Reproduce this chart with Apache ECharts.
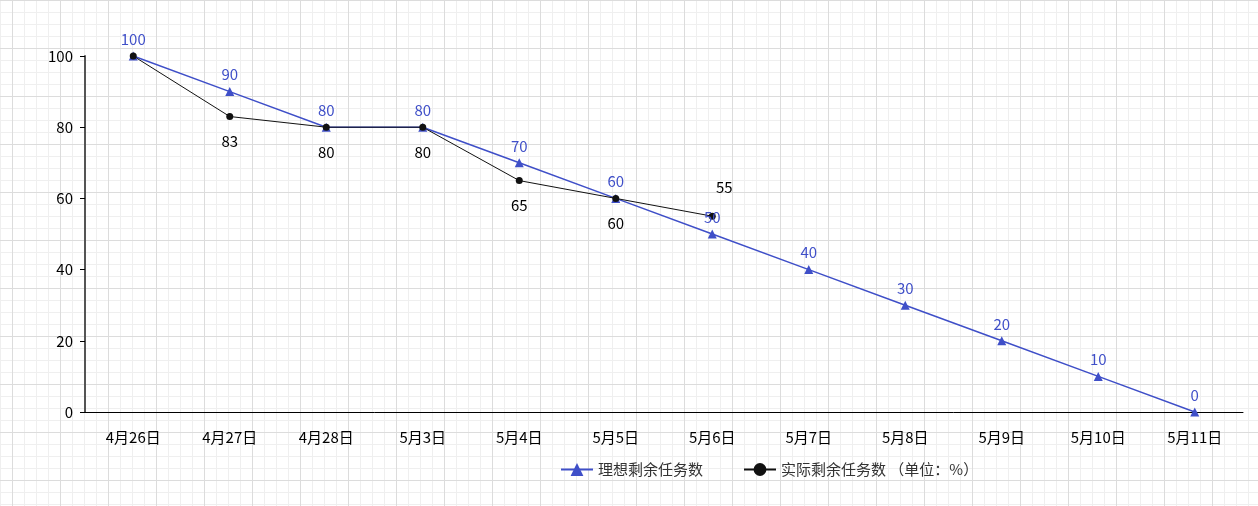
<!DOCTYPE html>
<html>
<head>
<meta charset="utf-8">
<script src="https://cdn.jsdelivr.net/npm/echarts@6/dist/echarts.min.js"></script>
<style>
html, body { margin: 0; padding: 0; }
body {
	background-color: #fff;
	background-image:
		linear-gradient(#dcdcdc 1px, transparent 1px),
		linear-gradient(90deg, #dcdcdc 1px, transparent 1px),
		linear-gradient(#efefef 1px, transparent 1px),
		linear-gradient(90deg, #efefef 1px, transparent 1px);
	background-size: 48px 48px, 48px 48px, 12px 12px, 12px 12px;
	background-position: 12px 0px, 12px 0px, 0 0, 0 0;
}
#main { width: 1258px; height: 506px; }
</style>
</head>
<body>
<div id="main"></div>
<script>
var categories = ['4月26日', '4月27日', '4月28日', '5月3日', '5月4日', '5月5日', '5月6日', '5月7日', '5月8日', '5月9日', '5月10日', '5月11日'];
var ideal = [100, 90, 80, 80, 70, 60, 50, 40, 30, 20, 10, 0];
var actual = [100, 83, 80, 80, 65, 60, 55];

var actualData = actual.map(function (v, i) {
	if (i === 0) return { value: v, label: { show: false } };
	if (i === actual.length - 1) return { value: v, label: { position: 'top', offset: [12, -4] } };
	return v;
});

var chartDom = document.getElementById('main');
var myChart = echarts.init(chartDom);

var option = {
	textStyle: { fontFamily: 'Noto Sans CJK SC' },
	grid: { left: 85, right: 15, top: 56, bottom: 94 },
	legend: {
		bottom: 24,
		left: 555,
		itemGap: 40,
		itemWidth: 32,
		itemHeight: 16,
		textStyle: { fontSize: 15, color: '#333' },
		data: [
			{ name: '理想剩余任务数' },
			{ name: '实际剩余任务数 （单位：%）' }
		]
	},
	xAxis: {
		type: 'category',
		data: categories,
		axisLine: { lineStyle: { color: '#000' } },
		axisTick: { lineStyle: { color: '#000' } },
		axisLabel: { color: '#000', fontSize: 15, margin: 18 }
	},
	yAxis: {
		type: 'value',
		min: 0,
		max: 100,
		interval: 20,
		splitLine: { show: false },
		axisLine: { show: true, lineStyle: { color: '#555', width: 2 } },
		axisTick: { show: true, lineStyle: { color: '#000' } },
		axisLabel: { color: '#000', fontSize: 15, margin: 12 }
	},
	series: [
		{
			name: '理想剩余任务数',
			type: 'line',
			data: ideal,
			symbol: 'triangle',
			symbolSize: 9,
			color: '#3f4fc8',
			lineStyle: { color: '#3f4fc8', width: 1.5 },
			label: { show: true, position: 'top', color: '#3f4fc8', fontSize: 15 }
		},
		{
			name: '实际剩余任务数 （单位：%）',
			type: 'line',
			data: actualData,
			symbol: 'circle',
			symbolSize: 7,
			color: '#111',
			lineStyle: { color: '#111', width: 1 },
			label: { show: true, position: 'bottom', distance: 14, color: '#000', fontSize: 15 }
		}
	]
};
myChart.setOption(option);
</script>
</body>
</html>
